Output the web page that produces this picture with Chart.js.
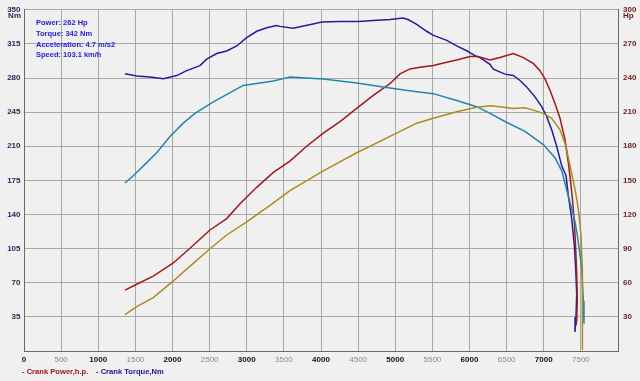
<!DOCTYPE html>
<html>
<head>
<meta charset="utf-8">
<style>
html,body{margin:0;padding:0;background:#f0f0f0;}
canvas{display:block;}
</style>
<script src="https://cdn.jsdelivr.net/npm/chart.js@4.4.1/dist/chart.umd.min.js"></script>
</head>
<body>
<canvas id="c" width="640" height="381"></canvas>
<script>
// ---- Data ----
const crankTorqueRpm = [1360,1518,1697,1876,2057,2191,2370,2461,2595,2730,2865,2999,3134,3269,3403,3448,3623,3892,4009,4256,4512,4700,4929,5104,5172,5289,5423,5508,5693,5828,5962,6074,6141,6276,6321,6478,6590,6680,6770,6882,6972,7040,7107,7174,7242,7300,7331,7376,7411,7430,7444,7434,7421];
const crankTorqueNm  = [284.3,282,281,279.2,282.5,287.6,292.7,299.4,305.2,307.8,312.9,321.4,328,331.5,333.8,333,331,335.5,337.5,338,338,339,340,341.6,340,335,328,324,318.7,313,308,303,301,294,289,284,282.6,277.5,270.8,260.7,250.6,240.4,226.9,210,189.9,179.7,159.5,135.9,109,85.3,58.4,34.7,19.5];

const wheelTorqueRpm = [1360,1472,1607,1787,1966,2145,2303,2550,2819,2953,3178,3358,3582,4031,4481,4929,5289,5512,5828,6097,6276,6478,6747,6994,7151,7242,7317,7376,7421,7452,7488,7511,7533,7542];
const wheelTorqueNm  = [172.3,179.8,189.9,203.3,220,233.7,243.8,255.6,266.8,272.4,275,276.9,281,279,274.8,269.8,266,264,257,250.6,243.8,235.4,225.3,211.7,198.3,184.8,162.9,146,132.5,119,98.8,85.3,51.6,28];

const crankPowerRpm = [1360,1518,1741,2011,2213,2505,2730,2909,3134,3358,3582,3807,4031,4256,4481,4704,4929,5064,5199,5333,5512,5693,5828,6007,6114,6276,6410,6590,6725,6859,6949,7017,7084,7151,7219,7286,7331,7363,7390,7411,7430,7444,7452,7444,7434];
const crankPowerHp  = [53.5,58.7,65.9,77.4,89,106.4,116.4,129.4,143.9,157,167,180,191.6,201.7,213.3,224.8,235,243.6,248,249.4,251,253.8,255.8,259,259,255.8,258,261.6,258,252.9,246.5,239.3,229.2,217.6,204.6,185.8,165.6,148.3,131,113.6,90.4,67.4,44.2,26.9,22.5];

const wheelPowerRpm = [1360,1518,1741,2011,2236,2505,2730,2999,3313,3582,4031,4481,4929,5289,5512,5828,6097,6276,6410,6590,6747,6859,6994,7107,7219,7300,7363,7421,7465,7502,7519,7524,7519,7519];
const wheelPowerHp  = [32,39,47,61.6,74.6,89.9,102,113.6,128,141,158.4,174.3,188.7,200.3,204.6,210.4,214.4,215.6,214.8,213.3,213.9,211.8,208.9,204.6,194.5,180,159.8,142.4,125.1,102,73,44.2,15.3,0.9];

const infoLines = ["Power: 262 Hp","Torque: 342 Nm","Acceleration: 4.7 m/s2","Speed: 103.1 km/h"];
const legendItems = ["- Crank Power,h.p.","- Crank Torque,Nm"];
const leftUnit = "Nm";
const rightUnit = "Hp";

function pts(xs, ys){ return xs.map((x,i)=>({x:x,y:ys[i]})); }

const FONT = "'Liberation Sans', Arial, sans-serif";

const deco = {
  id:'deco',
  beforeDraw(chart){
    const c = chart.ctx;
    c.save();
    c.fillStyle = '#f0f0f0';
    c.fillRect(0,0,chart.width,chart.height);
    c.restore();
  },
  afterDraw(chart){
    const c = chart.ctx;
    const a = chart.chartArea;
    c.save();
    // plot frame
    c.strokeStyle = '#6a6a6a';
    c.lineWidth = 1;
    c.beginPath();
    c.moveTo(Math.round(a.left)+0.5, Math.round(a.top)+0.5);
    c.lineTo(Math.round(a.left)+0.5, Math.round(a.bottom)+0.5);
    c.lineTo(Math.round(a.right)+0.5, Math.round(a.bottom)+0.5);
    c.lineTo(Math.round(a.right)+0.5, Math.round(a.top)+0.5);
    c.stroke();
    // info text
    c.font = 'bold 7.5px ' + FONT;
    c.fillStyle = '#1c1cf0';
    c.textAlign = 'left';
    c.textBaseline = 'alphabetic';
    infoLines.forEach((t,i)=>{ c.fillText(t, a.left + 12, 25 + i*10.8); });
    // units
    c.font = 'bold 8px ' + FONT;
    c.fillStyle = '#28285c';
    c.textAlign = 'right';
    c.fillText(leftUnit, a.left - 3, 17.5);
    c.fillStyle = '#6e1c1c';
    c.textAlign = 'left';
    c.fillText(rightUnit, a.right + 5, 18);
    // bottom legend
    c.font = 'bold 7.6px ' + FONT;
    c.fillStyle = '#a01414';
    c.fillText(legendItems[0], 22, 374);
    c.fillStyle = '#1414a0';
    c.fillText(legendItems[1], 96, 374);
    c.restore();
  }
};

new Chart(document.getElementById('c'), {
  type: 'scatter',
  data: {
    datasets: [
      {label:'Wheel Power', data: pts(wheelPowerRpm, wheelPowerHp), yAxisID:'y1', borderColor:'#ac8c1c'},
      {label:'Wheel Torque', data: pts(wheelTorqueRpm, wheelTorqueNm), yAxisID:'y', borderColor:'#2088a8'},
      {label:'Crank Power', data: pts(crankPowerRpm, crankPowerHp), yAxisID:'y1', borderColor:'#a41818'},
      {label:'Crank Torque', data: pts(crankTorqueRpm, crankTorqueNm), yAxisID:'y', borderColor:'#1e1ea0'}
    ].map(d=>Object.assign(d,{showLine:true, pointRadius:0, borderWidth:1.5, tension:0, fill:false}))
  },
  options: {
    responsive:false,
    animation:false,
    devicePixelRatio:1,
    layout:{padding:{top:5,left:0,right:0,bottom:0}},
    plugins:{legend:{display:false}, tooltip:{enabled:false}},
    scales:{
      x:{
        type:'linear', min:0, max:8000,
        afterFit(s){ s.height = 30; },
        grid:{color:'#a8a8a8', lineWidth:1, drawTicks:false},
        border:{color:'#6a6a6a'},
        ticks:{
          stepSize:500, autoSkip:false, maxRotation:0, padding:4,
          callback:(v)=> v>=8000 ? '' : String(v),
          font:(ctx)=>({family:FONT, size:8, weight: (ctx.tick && ctx.tick.value%1000===0) ? 'bold' : 'normal'}),
          color:(ctx)=> (ctx.tick && ctx.tick.value%1000===0) ? '#101010' : '#8a8a8a'
        }
      },
      y:{
        position:'left', min:0, max:350,
        afterFit(s){ s.width = 24; },
        grid:{color:'#a8a8a8', lineWidth:1, drawTicks:false},
        border:{color:'#6a6a6a'},
        ticks:{stepSize:35, padding:3.5, callback:(v)=> v===0 ? '' : String(v),
          font:{family:FONT, size:8, weight:'bold'}, color:'#28285c'}
      },
      y1:{
        position:'right', min:0, max:300,
        afterFit(s){ s.width = 22; },
        grid:{display:false, drawTicks:false},
        border:{color:'#6a6a6a'},
        ticks:{stepSize:30, padding:5, callback:(v)=> v===0 ? '' : String(v),
          font:{family:FONT, size:8, weight:'bold'}, color:'#6e1c1c'}
      }
    }
  },
  plugins:[deco]
});
</script>
</body>
</html>
